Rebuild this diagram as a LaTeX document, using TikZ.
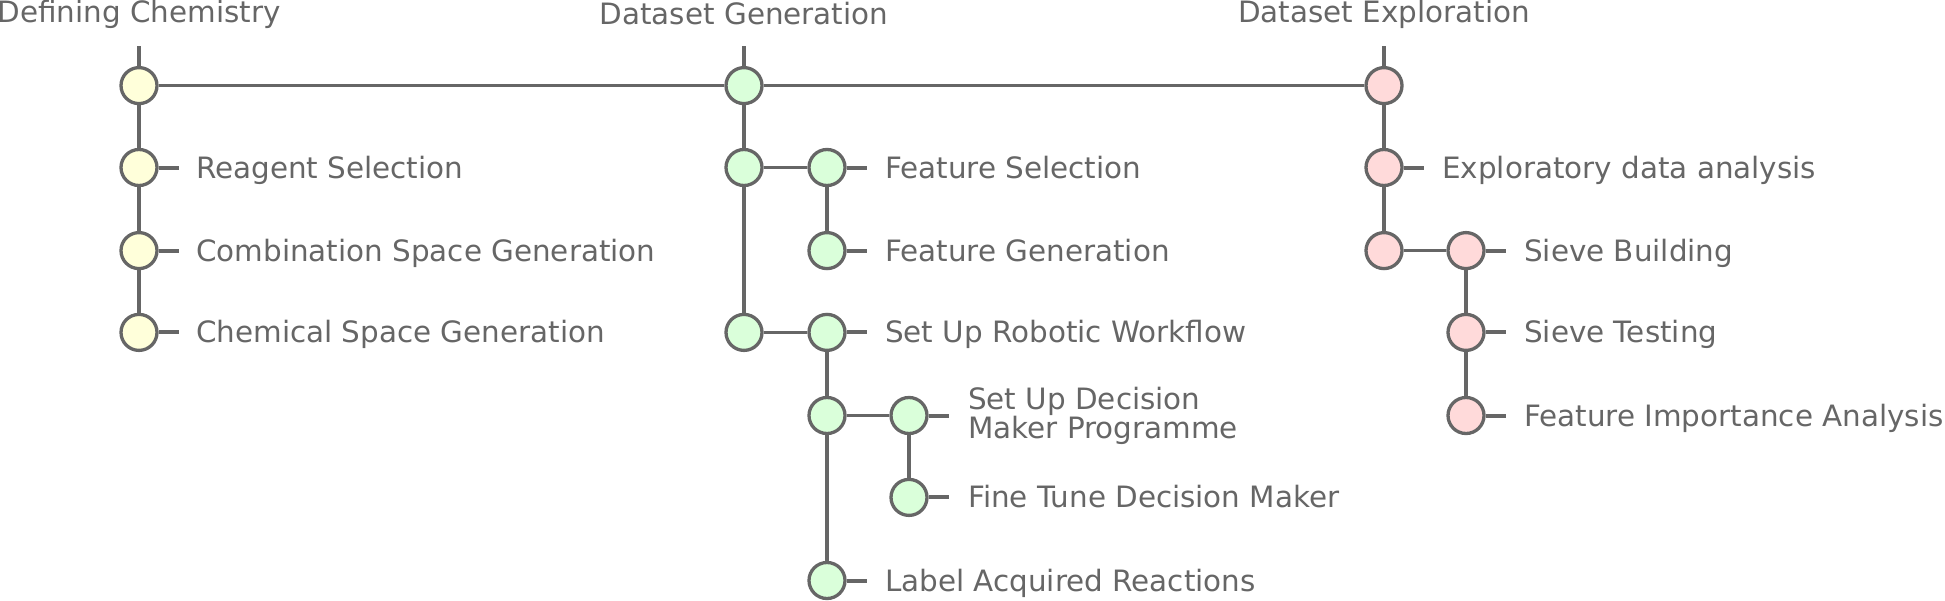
\documentclass[tikz,border=0pt]{standalone}
\usepackage{fontspec}
\setmainfont{DejaVu Sans}
\definecolor{linegray}{HTML}{666666}
\definecolor{fillyellow}{HTML}{FFFFDA}
\definecolor{fillgreen}{HTML}{DAFFDA}
\definecolor{fillpink}{HTML}{FFDADA}
\tikzset{
  dot/.style={circle, draw=linegray, line width=3.3pt, minimum size=36pt, inner sep=0pt},
  ydot/.style={dot, fill=fillyellow},
  gdot/.style={dot, fill=fillgreen},
  pdot/.style={dot, fill=fillpink},
  conn/.style={draw=linegray, line width=3.3pt},
  stub/.style={draw=linegray, line width=4pt},
  lbl/.style={anchor=base west, inner sep=0pt, text=linegray, font=\fontsize{29.4}{29.4}\selectfont},
  ttl/.style={anchor=base, inner sep=0pt, text=linegray, font=\fontsize{29.4}{29.4}\selectfont},
}
\begin{document}
\begin{tikzpicture}[x=1pt, y=-1pt]
\useasboundingbox (0,0) rectangle (1945,600);
% titles
\node[ttl] (T1) at (139,22.5) {Defining Chemistry};
\node[ttl] (T2) at (744,24.5) {Dataset Generation};
\node[ttl] (T3) at (1384,22.5) {Dataset Exploration};
% top coordinates
\coordinate (t1) at (139,46);
\coordinate (t2) at (744,46);
\coordinate (t3) at (1384,46);
% stub ends
\coordinate (sa2) at (179,167.5);
\coordinate (sa3) at (179,250.6);
\coordinate (sa4) at (179,332.4);
\coordinate (sb2) at (867,167.5);
\coordinate (sb3) at (867,250.6);
\coordinate (sb5) at (867,332.4);
\coordinate (sb8) at (867,580.5);
\coordinate (sb6) at (949,415.5);
\coordinate (sb7) at (949,497.4);
\coordinate (sc2) at (1424,167.5);
\coordinate (sc4) at (1506,250.6);
\coordinate (sc5) at (1506,332.4);
\coordinate (sc6) at (1506,415.5);
% nodes
\node[ydot] (a1) at (139,85.6) {};
\node[ydot] (a2) at (139,167.5) {};
\node[ydot] (a3) at (139,250.6) {};
\node[ydot] (a4) at (139,332.4) {};
\node[gdot] (b1) at (744,85.6) {};
\node[gdot] (b2) at (744,167.5) {};
\node[gdot] (b2a) at (827,167.5) {};
\node[gdot] (b3) at (827,250.6) {};
\node[gdot] (b4) at (744,332.4) {};
\node[gdot] (b5) at (827,332.4) {};
\node[gdot] (b5a) at (827,415.5) {};
\node[gdot] (b6) at (909,415.5) {};
\node[gdot] (b7) at (909,497.4) {};
\node[gdot] (b8) at (827,580.5) {};
\node[pdot] (c1) at (1384,85.6) {};
\node[pdot] (c2) at (1384,167.5) {};
\node[pdot] (c3) at (1384,250.6) {};
\node[pdot] (c4) at (1466,250.6) {};
\node[pdot] (c5) at (1466,332.4) {};
\node[pdot] (c6) at (1466,415.5) {};
% connectors
\path[conn] (t1) -- (a1);
\path[conn] (a1) -- (a2);
\path[conn] (a2) -- (a3);
\path[conn] (a3) -- (a4);
\path[conn] (a1) -- (b1);
\path[conn] (b1) -- (c1);
\path[conn] (t2) -- (b1);
\path[conn] (b1) -- (b2);
\path[conn] (b2) -- (b4);
\path[conn] (b2) -- (b2a);
\path[conn] (b2a) -- (b3);
\path[conn] (b4) -- (b5);
\path[conn] (b5) -- (b5a);
\path[conn] (b5a) -- (b8);
\path[conn] (b5a) -- (b6);
\path[conn] (b6) -- (b7);
\path[conn] (t3) -- (c1);
\path[conn] (c1) -- (c2);
\path[conn] (c2) -- (c3);
\path[conn] (c3) -- (c4);
\path[conn] (c4) -- (c5);
\path[conn] (c5) -- (c6);
% stubs
\path[stub] (a2.east) -- (sa2);
\path[stub] (a3.east) -- (sa3);
\path[stub] (a4.east) -- (sa4);
\path[stub] (b2a.east) -- (sb2);
\path[stub] (b3.east) -- (sb3);
\path[stub] (b5.east) -- (sb5);
\path[stub] (b8.east) -- (sb8);
\path[stub] (b6.east) -- (sb6);
\path[stub] (b7.east) -- (sb7);
\path[stub] (c2.east) -- (sc2);
\path[stub] (c4.east) -- (sc4);
\path[stub] (c5.east) -- (sc5);
\path[stub] (c6.east) -- (sc6);
% labels
\node[lbl] (la2) at (196,178) {Reagent Selection};
\node[lbl] (la3) at (196,261.1) {Combination Space Generation};
\node[lbl] (la4) at (196,342.9) {Chemical Space Generation};
\node[lbl] (lb2) at (885,178) {Feature Selection};
\node[lbl] (lb3) at (885,261.1) {Feature Generation};
\node[lbl] (lb5) at (885,342.9) {Set Up Robotic Workflow};
\node[lbl, align=left] (lb6) at (968,438.5) {Set Up Decision\\Maker Programme};
\node[lbl] (lb7) at (968,507.9) {Fine Tune Decision Maker};
\node[lbl] (lb8) at (885,591) {Label Acquired Reactions};
\node[lbl] (lc2) at (1442,178) {Exploratory data analysis};
\node[lbl] (lc4) at (1524,261.1) {Sieve Building};
\node[lbl] (lc5) at (1524,342.9) {Sieve Testing};
\node[lbl] (lc6) at (1524,426) {Feature Importance Analysis};
\end{tikzpicture}
\end{document}
